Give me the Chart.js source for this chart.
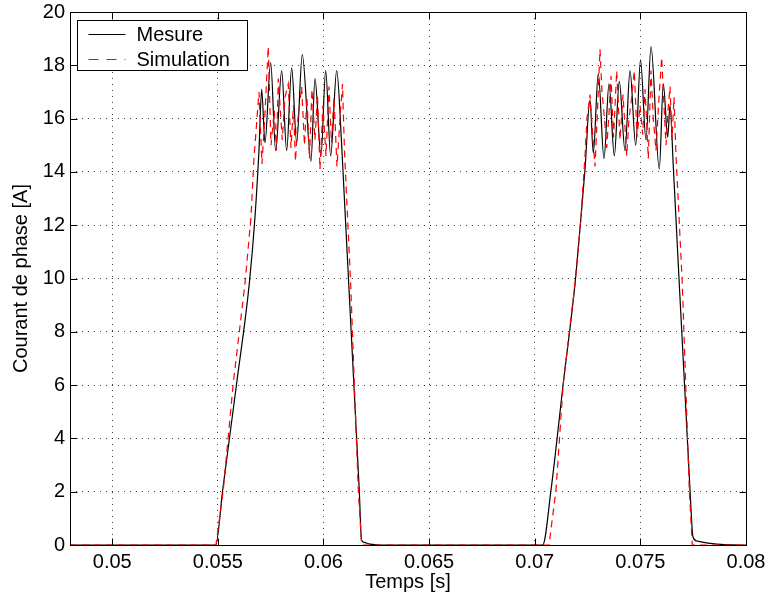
<!DOCTYPE html>
<html>
<head>
<meta charset="utf-8">
<script src="https://cdn.jsdelivr.net/npm/chart.js@4"></script>
<style>
  html, body { margin: 0; padding: 0; background: #fff; }
  #wrap { width: 769px; height: 600px; }
</style>
</head>
<body>
<div id="wrap"><canvas id="c" width="769" height="600"></canvas></div>
<script>
'use strict';

// x ticks (s)
const xTickVals = [0.05, 0.055, 0.06, 0.065, 0.07, 0.075, 0.08];
const xTickLabels = ['0.05', '0.055', '0.06', '0.065', '0.07', '0.075', '0.08'];

// Mesure (black, solid)
const mesureT = [0.048, 0.054895, 0.055227, 0.055889, 0.056486, 0.056756, 0.056945, 0.057073, 0.057229, 0.057499,
  0.057736, 0.058020, 0.058256, 0.058493, 0.058730, 0.058995, 0.059407, 0.059596, 0.059880, 0.060103,
  0.060339, 0.060624, 0.060860, 0.061693, 0.061798, 0.061916, 0.062200, 0.062673, 0.070376, 0.070769,
  0.071351, 0.071905, 0.072189, 0.072379, 0.072615, 0.072771, 0.073008, 0.073278, 0.073515, 0.073766,
  0.074002, 0.074272, 0.074509, 0.074779, 0.075006, 0.075266, 0.075503, 0.075896, 0.076086, 0.076294,
  0.076403, 0.076559, 0.077350, 0.077491, 0.077681, 0.078296, 0.079717, 0.08];
const mesureI = [0, 0, 2.06, 6.07, 9.8, 12.3, 14.8, 17.1, 15.1, 18.1,
  14.8, 17.8, 14.8, 17.9, 15.1, 18.4, 14.4, 17.5, 14.6, 17.8,
  14.6, 17.8, 15.0, 2.06, 0.2, 0.1, 0.03, 0, 0, 2.06,
  6.07, 9.8, 12.3, 14.1, 16.7, 14.7, 17.7, 14.5, 17.3, 14.6,
  17.4, 14.8, 17.8, 15.0, 18.2, 15.2, 18.7, 14.1, 17.3, 15.3,
  16.5, 14.2, 2.06, 0.3, 0.15, 0.06, 0, 0];

// Simulation (red, dashed)
const simT = [0.048, 0.054909, 0.055255, 0.055728, 0.056282, 0.056566, 0.056708, 0.056803, 0.056945, 0.057087,
  0.057229, 0.057385, 0.057513, 0.057669, 0.057774, 0.057859, 0.058048, 0.058176, 0.058332, 0.058460,
  0.058578, 0.058673, 0.058791, 0.058967, 0.059099, 0.059217, 0.059336, 0.059454, 0.059596, 0.059715,
  0.059833, 0.059975, 0.060117, 0.060259, 0.060377, 0.060496, 0.060638, 0.060780, 0.060898, 0.060993,
  0.061286, 0.061646, 0.061807, 0.070674, 0.071005, 0.071351, 0.071905, 0.072189, 0.072379, 0.072473,
  0.072615, 0.072734, 0.072852, 0.072970, 0.073089, 0.073183, 0.073302, 0.073406, 0.073515, 0.073610,
  0.073728, 0.073880, 0.074036, 0.074178, 0.074353, 0.074462, 0.074590, 0.074713, 0.074841, 0.074983,
  0.075110, 0.075219, 0.075375, 0.075503, 0.075612, 0.075740, 0.075858, 0.076009, 0.076086, 0.076213,
  0.076308, 0.076403, 0.076498, 0.076592, 0.076687, 0.076985, 0.077316, 0.077458, 0.08];
const simI = [0, 0, 2.06, 6.07, 9.8, 12.3, 14.5, 15.5, 17.0, 14.3,
  16.2, 18.7, 15.0, 16.3, 14.8, 17.5, 15.2, 16.8, 17.3, 14.9,
  16.5, 14.4, 16.0, 17.2, 15.0, 16.8, 14.5, 17.1, 15.2, 16.9,
  14.1, 16.5, 14.6, 17.2, 15.1, 16.8, 14.2, 16.0, 17.3, 14.8,
  9.8, 2.06, 0, 0, 2.06, 6.07, 9.8, 12.3, 14.6, 16.0,
  16.9, 15.5, 14.2, 16.3, 18.6, 17.0, 16.0, 14.9, 16.2, 17.6,
  15.3, 17.8, 15.2, 16.9, 14.6, 16.0, 16.8, 17.8, 15.3, 16.5,
  15.4, 17.1, 14.5, 17.8, 16.0, 14.8, 16.5, 18.3, 17.0, 15.0,
  16.3, 17.2, 15.2, 16.8, 14.6, 9.8, 2.06, 0, 0];

const FONT = 'Liberation Sans, Arial, Helvetica, sans-serif';
const TICK = { color: '#000', font: { family: FONT, size: 20 }, padding: 5 };
const GRID = { color: 'rgba(0,0,0,0.75)', lineWidth: 1, drawTicks: false };

const pts = (t, v) => t.map((x, i) => ({ x: x, y: v[i] }));

// frame, inward ticks and legend box (matlab style)
const matlabAxes = {
  id: 'matlabAxes',
  afterDraw(chart) {
    const { ctx, chartArea: a, scales } = chart;
    const L = Math.round(a.left) + 0.5, R = Math.round(a.right) + 0.5;
    const T = Math.round(a.top) + 0.5, B = Math.round(a.bottom) + 0.5;
    ctx.save();
    ctx.strokeStyle = '#000';
    ctx.lineWidth = 1;
    ctx.setLineDash([]);
    ctx.strokeRect(L, T, R - L, B - T);
    ctx.beginPath();
    xTickVals.forEach(v => {
      const px = Math.round(scales.x.getPixelForValue(v)) + 0.5;
      ctx.moveTo(px, B); ctx.lineTo(px, B - 7);
      ctx.moveTo(px, T); ctx.lineTo(px, T + 7);
    });
    scales.y.ticks.forEach(tk => {
      const py = Math.round(scales.y.getPixelForValue(tk.value)) + 0.5;
      ctx.moveTo(L, py); ctx.lineTo(L + 7, py);
      ctx.moveTo(R, py); ctx.lineTo(R - 7, py);
    });
    ctx.stroke();

    // legend
    const bx = L + 7, by = T + 8, bw = 170, bh = 50;
    ctx.fillStyle = '#fff';
    ctx.fillRect(bx, by, bw, bh);
    ctx.strokeRect(bx, by, bw, bh);
    ctx.font = '20px ' + FONT;
    ctx.textBaseline = 'middle';
    ctx.textAlign = 'left';
    chart.data.datasets.forEach((ds, i) => {
      const y = Math.round(by + 13 + i * 25) + 0.5;
      ctx.strokeStyle = ds.borderColor;
      ctx.lineWidth = 1;
      ctx.setLineDash(ds.borderDash ? [10, 8] : []);
      ctx.beginPath();
      ctx.moveTo(bx + 11, y); ctx.lineTo(bx + 48, y);
      ctx.stroke();
      ctx.fillStyle = '#000';
      ctx.fillText(ds.label, bx + 59, y + 1);
    });
    ctx.restore();
  }
};

new Chart(document.getElementById('c').getContext('2d'), {
  type: 'line',
  data: {
    datasets: [
      { label: 'Mesure', data: pts(mesureT, mesureI), borderColor: '#000', borderWidth: 1.2,
        pointRadius: 0, cubicInterpolationMode: 'monotone', order: 1 },
      { label: 'Simulation', data: pts(simT, simI), borderColor: '#ff0000', borderWidth: 1.2,
        borderDash: [7, 5], pointRadius: 0, tension: 0, order: 0 }
    ]
  },
  plugins: [matlabAxes],
  options: {
    responsive: false,
    animation: false,
    layout: { padding: { left: 0, right: 23, top: 12, bottom: 0 } },
    plugins: { legend: { display: false }, tooltip: { enabled: false } },
    scales: {
      x: {
        type: 'linear', min: 0.048, max: 0.08,
        afterBuildTicks: s => { s.ticks = xTickVals.map(v => ({ value: v })); },
        afterFit: s => { s.height = 55; s.paddingLeft = 0; s.paddingRight = 0; },
        ticks: { ...TICK, maxRotation: 0, callback: (v, i) => xTickLabels[i] },
        grid: GRID,
        border: { display: false, dash: [1, 5] },
        title: { display: true, text: 'Temps [s]', color: '#000', font: { family: FONT, size: 20 }, padding: { top: 0, bottom: 6 } }
      },
      y: {
        type: 'linear', min: 0, max: 20,
        afterFit: s => { s.width = 70; s.paddingTop = 0; s.paddingBottom = 0; },
        ticks: { ...TICK, stepSize: 2 },
        grid: GRID,
        border: { display: false, dash: [1, 5] },
        title: { display: true, text: 'Courant de phase [A]', color: '#000', font: { family: FONT, size: 20 }, padding: { top: 9, bottom: 0 } }
      }
    }
  }
});
</script>
</body>
</html>
